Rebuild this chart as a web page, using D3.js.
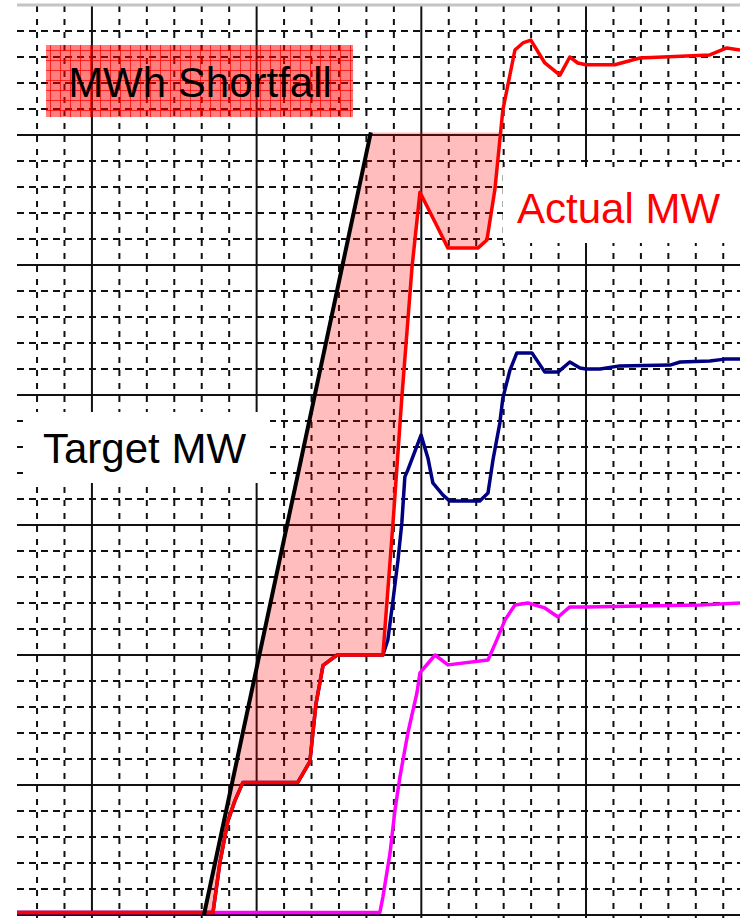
<!DOCTYPE html>
<html>
<head>
<meta charset="utf-8">
<script src="https://cdn.jsdelivr.net/npm/d3@7"></script>
<style>
  html, body { margin: 0; padding: 0; background: #fff; }
  #chart { width: 740px; height: 918px; }
</style>
</head>
<body>
<div id="chart"></div>
<script>
// time in seconds (minor grid = 10 s), output in MW (minor grid = 10 MW)
const targetTime = [70.8, 131.6, 266.1];
const targetMW   = [0, 301, 301];

const actualTime = [2.7, 74.1, 76.6, 79.5, 82.1, 85.0, 105.0, 109.4, 111.6, 114.2, 119.3, 136.0,
  139.7, 142.9, 146.6, 149.5, 155.7, 159.7, 170.6, 173.9, 176.8, 179.7, 184.1, 187.0, 189.9,
  195.0, 200.5, 204.1, 207.0, 210.0, 220.5, 229.6, 255.1, 261.3, 266.1];
const actualMW = [1, 1, 20, 36, 44, 51, 51, 59, 81, 96, 100, 100,
  151, 199, 249, 278, 265, 256.5, 256.5, 259.6, 279, 309.6, 332.7, 335.4, 336.5,
  327.7, 323, 330, 327.7, 327, 327, 329.6, 330.8, 333.5, 332.7];

const blueTime = [2.7, 74.1, 76.6, 79.5, 82.1, 85.0, 105.0, 109.4, 111.6, 114.2, 119.3, 136.0,
  137.8, 139.7, 141.5, 142.9, 144.0, 145.1, 146.9, 149.9, 152.4, 154.2, 157.9, 160.4, 171.3,
  174.3, 176.1, 178.6, 179.7, 182.3, 184.8, 190.3, 195.0, 199.8, 204.1, 207.8, 210.0, 215.1,
  222.3, 240.6, 244.3, 255.1, 260.6, 266.1];
const blueMW = [1, 1, 20, 36, 44, 51, 51, 59, 81, 96, 100, 100,
  105.8, 121.2, 136.5, 150.8, 168.5, 171.2, 176.2, 184.6, 175.8, 166.2, 161.5, 159.2, 159.2,
  162.3, 175, 189.2, 198.8, 209.6, 216.2, 216.2, 208.8, 208.8, 212.7, 210.4, 210, 210,
  211.2, 211.5, 212.7, 213.1, 213.8, 213.8];

const magentaTime = [2.7, 134.9, 136.0, 138.6, 140.4, 142.2, 145.1, 148.4, 149.5, 155.0, 159.7,
  174.3, 177.5, 180.5, 184.1, 188.8, 195.0, 199.8, 204.1, 210.0, 229.6, 251.5, 266.1];
const magentaMW = [1, 1, 6.9, 23.8, 40.4, 53.1, 70, 85.4, 93.1, 100, 96.2,
  98.1, 105.8, 113.5, 119.2, 120, 118.1, 114.6, 118.5, 118.5, 118.8, 119.2, 120];

const xMajorTicks = [30, 90, 150, 210];
const yMajorTicks = [0, 50, 100, 150, 200, 250, 300];

const zip = (xs, ys) => xs.map((x, i) => ({ t: x, v: ys[i] }));
const target = zip(targetTime, targetMW);
const actual = zip(actualTime, actualMW);
const blue = zip(blueTime, blueMW);
const magenta = zip(magentaTime, magentaMW);

const width = 740;
const height = 918;

const svg = d3.select('#chart')
  .append('svg')
  .attr('width', width)
  .attr('height', height);

const x = d3.scaleLinear().domain([2.7, 266.1]).range([17, 740]);
const y = d3.scaleLinear().domain([0, 350]).range([915, 5]);

// grid
const grid = svg.append('g');
const xMinor = d3.range(10, 270, 10).filter(d => !xMajorTicks.includes(d));
const yMinor = d3.range(10, 350, 10).filter(d => d % 50 !== 0);

grid.selectAll('.hminor').data(yMinor).enter().append('line')
  .attr('x1', 17).attr('x2', width)
  .attr('y1', d => y(d)).attr('y2', d => y(d))
  .attr('stroke', '#111').attr('stroke-width', 2)
  .attr('stroke-dasharray', '7,5');

grid.selectAll('.vminor').data(xMinor).enter().append('line')
  .attr('x1', d => x(d)).attr('x2', d => x(d))
  .attr('y1', 6).attr('y2', height)
  .attr('stroke', '#111').attr('stroke-width', 2)
  .attr('stroke-dasharray', '6,7');

grid.selectAll('.hmajor').data(yMajorTicks).enter().append('line')
  .attr('x1', 17).attr('x2', width)
  .attr('y1', d => y(d)).attr('y2', d => y(d))
  .attr('stroke', '#111').attr('stroke-width', 2);

grid.selectAll('.vmajor').data(xMajorTicks).enter().append('line')
  .attr('x1', d => x(d)).attr('x2', d => x(d))
  .attr('y1', 5).attr('y2', height)
  .attr('stroke', '#111').attr('stroke-width', 2);

// top border
grid.append('line')
  .attr('x1', 17).attr('x2', width)
  .attr('y1', y(350)).attr('y2', y(350))
  .attr('stroke', '#c4c4c4').attr('stroke-width', 3);

// shortfall: region above actual and below target
const defs = svg.append('defs');
defs.append('clipPath').attr('id', 'under-target')
  .append('path')
  .attr('d', d3.area().x(d => x(d.t)).y0(y(0)).y1(d => y(d.v))(target));

svg.append('path')
  .attr('clip-path', 'url(#under-target)')
  .attr('d', d3.area().x(d => x(d.t)).y0(d => y(d.v)).y1(y(350))(actual))
  .attr('fill', 'rgba(255,0,0,0.26)');

const line = d3.line().x(d => x(d.t)).y(d => y(d.v));

svg.append('path').datum(magenta)
  .attr('d', line).attr('fill', 'none')
  .attr('stroke', '#ff00ff').attr('stroke-width', 3.5).attr('stroke-linejoin', 'round');

svg.append('path').datum(blue)
  .attr('d', line).attr('fill', 'none')
  .attr('stroke', '#000080').attr('stroke-width', 3.5).attr('stroke-linejoin', 'round');

svg.append('path').datum(actual)
  .attr('d', line).attr('fill', 'none')
  .attr('stroke', '#ff0000').attr('stroke-width', 3.5).attr('stroke-linejoin', 'round');

svg.append('path').datum(target.slice(0, 2))
  .attr('d', line).attr('fill', 'none')
  .attr('stroke', '#000').attr('stroke-width', 4);

// labels
const pat = defs.append('pattern').attr('id', 'hatch')
  .attr('width', 10).attr('height', 10)
  .attr('patternUnits', 'userSpaceOnUse');
pat.append('rect').attr('width', 10).attr('height', 10).attr('fill', 'rgba(255,0,0,0.5)');
pat.append('path').attr('d', 'M0,0.5H10M0.5,0V10')
  .attr('stroke', 'rgba(255,0,0,0.75)').attr('stroke-width', 1);

const font = '"Liberation Sans", Arial, sans-serif';

svg.append('rect')
  .attr('x', 46).attr('y', 45).attr('width', 307).attr('height', 72)
  .attr('fill', 'url(#hatch)');
svg.append('text')
  .attr('x', 200).attr('y', 97)
  .attr('text-anchor', 'middle')
  .style('font-family', font).style('font-size', '42px')
  .attr('fill', '#000')
  .text('MWh Shortfall');

svg.append('rect')
  .attr('x', 503).attr('y', 167).attr('width', 237).attr('height', 76)
  .attr('fill', '#fff');
svg.append('text')
  .attr('x', 517).attr('y', 223)
  .style('font-family', font).style('font-size', '42px')
  .attr('fill', '#ff0000')
  .text('Actual MW');

svg.append('rect')
  .attr('x', 23).attr('y', 412).attr('width', 247).attr('height', 71)
  .attr('fill', '#fff');
svg.append('text')
  .attr('x', 43).attr('y', 463)
  .style('font-family', font).style('font-size', '42px')
  .attr('fill', '#000')
  .text('Target MW');
</script>
</body>
</html>
